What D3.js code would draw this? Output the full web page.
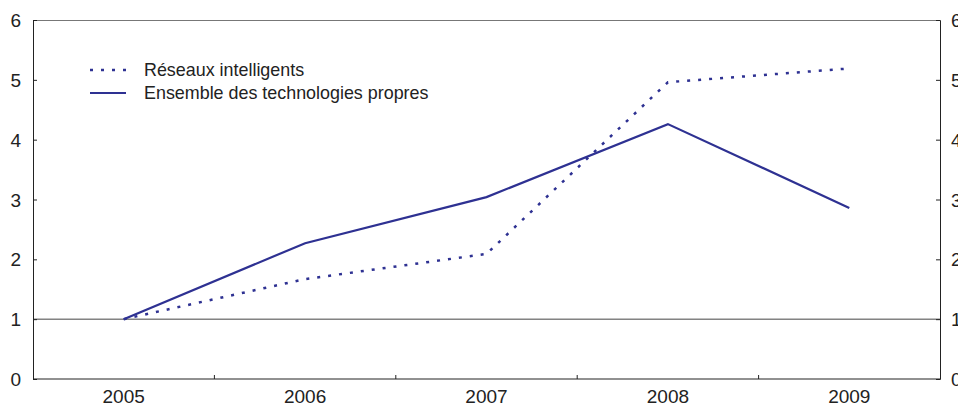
<!DOCTYPE html>
<html>
<head>
<meta charset="utf-8">
<script src="https://cdn.jsdelivr.net/npm/d3@7"></script>
<style>
  body { margin: 0; background: #fff; }
  text { font-family: "Liberation Sans", Arial, sans-serif; fill: #222; }
</style>
</head>
<body>
<div id="chart"></div>
<script>
// data
const years = ['2005', '2006', '2007', '2008', '2009'];
const smartGrids = [1.0, 1.67, 2.09, 4.96, 5.19];
const allCleanTech = [1.0, 2.27, 3.04, 4.26, 2.86];
const yTicks = [0, 1, 2, 3, 4, 5, 6];

const width = 958;
const height = 405;
const margins = { top: 20, right: 18, bottom: 26, left: 33 };
const innerWidth = width - margins.left - margins.right;
const innerHeight = height - margins.top - margins.bottom;
const blue = '#2e3192';

const svg = d3.select('#chart')
  .append('svg')
  .attr('width', width)
  .attr('height', height);

const g = svg.append('g')
  .attr('transform', `translate(${margins.left},${margins.top})`);

const xScale = d3.scaleBand()
  .domain(years)
  .range([0, innerWidth]);

const yScale = d3.scaleLinear()
  .domain([0, 6])
  .range([innerHeight, 0]);

// top border
g.append('line')
  .attr('x1', 0).attr('x2', innerWidth)
  .attr('y1', 0.5).attr('y2', 0.5)
  .attr('stroke', '#777').attr('stroke-width', 1);

// reference line at 1
g.append('line')
  .attr('x1', 0).attr('x2', innerWidth)
  .attr('y1', yScale(1)).attr('y2', yScale(1))
  .attr('stroke', '#444').attr('stroke-width', 1);

// left axis
const yLeft = g.append('g')
  .call(d3.axisRight(yScale).tickValues(yTicks).tickSize(4).tickFormat(''));
yLeft.select('.domain').attr('stroke', '#222');
yLeft.selectAll('line').attr('stroke', '#222');
g.selectAll('.ylab-left')
  .data(yTicks)
  .enter()
  .append('text')
  .attr('class', 'ylab-left')
  .attr('x', -12)
  .attr('y', d => yScale(d) + 7)
  .attr('text-anchor', 'end')
  .style('font-size', '19px')
  .text(d => d);

// right axis (labels run off the edge as in the original)
const yRight = g.append('g')
  .attr('transform', `translate(${innerWidth},0)`)
  .call(d3.axisLeft(yScale).tickValues(yTicks).tickSize(4).tickFormat(''));
yRight.select('.domain').attr('stroke', '#222');
yRight.selectAll('line').attr('stroke', '#222');
g.selectAll('.ylab-right')
  .data(yTicks)
  .enter()
  .append('text')
  .attr('class', 'ylab-right')
  .attr('x', innerWidth + 11)
  .attr('y', d => yScale(d) + 7)
  .attr('text-anchor', 'start')
  .style('font-size', '19px')
  .text(d => d);

// x axis: ticks at band boundaries, pointing inward
const xAxis = g.append('g')
  .attr('transform', `translate(0,${innerHeight})`);
xAxis.append('line')
  .attr('x1', 0).attr('x2', innerWidth)
  .attr('y1', 0).attr('y2', 0)
  .attr('stroke', '#222');
xAxis.selectAll('.xtick')
  .data(years.slice(1))
  .enter()
  .append('line')
  .attr('class', 'xtick')
  .attr('x1', d => xScale(d)).attr('x2', d => xScale(d))
  .attr('y1', 0).attr('y2', -4)
  .attr('stroke', '#222');
xAxis.selectAll('.xlab')
  .data(years)
  .enter()
  .append('text')
  .attr('class', 'xlab')
  .attr('x', d => xScale(d) + xScale.bandwidth() / 2)
  .attr('y', 24)
  .attr('text-anchor', 'middle')
  .style('font-size', '19px')
  .text(d => d);

const line = d3.line()
  .x((d, i) => xScale(years[i]) + xScale.bandwidth() / 2)
  .y(d => yScale(d));

g.append('path')
  .datum(allCleanTech)
  .attr('d', line)
  .attr('fill', 'none')
  .attr('stroke', blue)
  .attr('stroke-width', 2.2);

g.append('path')
  .datum(smartGrids)
  .attr('d', line)
  .attr('fill', 'none')
  .attr('stroke', blue)
  .attr('stroke-width', 2.5)
  .attr('stroke-dasharray', '3,8');

// legend
const legend = svg.append('g')
  .attr('transform', 'translate(90,70)');
const legendItems = [
  { label: 'Réseaux intelligents', dash: '3,8', w: 2.5 },
  { label: 'Ensemble des technologies propres', dash: null, w: 2.2 }
];
legendItems.forEach((d, i) => {
  legend.append('line')
    .attr('x1', 0).attr('x2', 36)
    .attr('y1', i * 23).attr('y2', i * 23)
    .attr('stroke', blue)
    .attr('stroke-width', d.w)
    .attr('stroke-dasharray', d.dash);
  legend.append('text')
    .attr('x', 54)
    .attr('y', i * 23 + 6)
    .style('font-size', '17.9px')
    .text(d.label);
});
</script>
</body>
</html>
